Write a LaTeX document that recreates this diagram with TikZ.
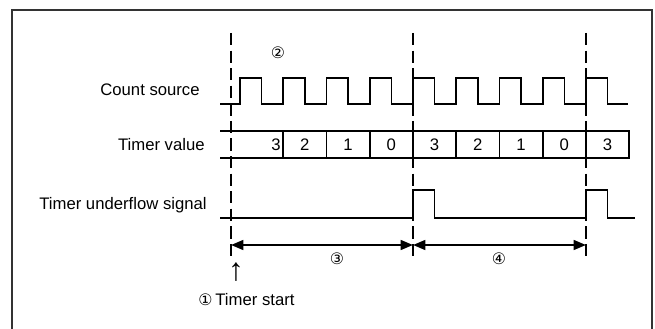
\documentclass[tikz,border=0pt]{standalone}
\usepackage{fontspec}
\setmainfont{Liberation Sans}
\newfontfamily\circfont{DejaVu Sans}
\usetikzlibrary{arrows.meta,calc}

\begin{document}
\begin{tikzpicture}[
    wave/.style={line width=0.9pt},
    marker/.style={dash pattern=on 7pt off 3pt,line width=0.8pt},
    lbl/.style={anchor=east,inner sep=0pt,font=\fontsize{9.5}{11}\selectfont},
    val/.style={inner sep=0pt,font=\fontsize{9.5}{11}\selectfont},
    circ/.style={inner sep=0pt,font=\circfont\fontsize{9}{10}\selectfont},
    span/.style={line width=1.3pt,{Triangle[length=7pt,width=5.5pt]}-{Triangle[length=7pt,width=5.5pt]}}
  ]
          \useasboundingbox (0,0) rectangle (13.1,6.58);
          % frame
          \draw[line width=1.1pt,black!80] (0.24,0) -- (0.24,6.38) -- (13.04,6.38) -- (13.04,0);

          % signal names
          \node[lbl] (cs) at (4.0,4.78) {Count source};
          \node[lbl] (tv) at (4.1,3.68) {Timer value};
          \node[lbl] (tu) at (4.14,2.48) {Timer underflow signal};

          % count source
          \draw[wave] (4.4,4.5)
            \foreach \k in {0,...,8} {
              -- ({4.8+0.865*\k},4.5) -- ({4.8+0.865*\k},5.02)
              -- ({5.2325+0.865*\k},5.02) -- ({5.2325+0.865*\k},4.5)
            } -- (12.56,4.5);

          % timer value
          \draw[wave] (4.4,3.96) -- (12.585,3.96) -- (12.585,3.42) -- (4.4,3.42);
          \foreach \k in {1,...,8}
            \draw[wave] ({4.8+0.865*\k},3.96) -- ({4.8+0.865*\k},3.42);
          \node[val] (v0) at (5.52,3.69) {3};
          \foreach \v [count=\k] in {2,1,0,3,2,1,0,3}
            \node[val] (v\k) at ({5.2325+0.865*\k},3.69) {\v};

          % underflow signal
          \draw[wave] (4.4,2.22) -- (8.26,2.22) -- (8.26,2.78) -- (8.6925,2.78) -- (8.6925,2.22)
            -- (11.72,2.22) -- (11.72,2.78) -- (12.1525,2.78) -- (12.1525,2.22) -- (12.70,2.22);

          % timing markers
          \coordinate (s0) at (4.62,1.68);
          \coordinate (s1) at (8.26,1.68);
          \coordinate (s2) at (11.72,1.68);
          \foreach \x in {4.62,8.26,11.72}
            \draw[marker] (\x,5.92) -- (\x,1.38);
          \draw[span] (s0) -- (s1);
          \draw[span] (s1) -- (s2);

          \node[circ] (n2) at (5.56,5.52) {②};
          \node[circ] (n3) at (6.74,1.40) {③};
          \node[circ] (n4) at (9.98,1.40) {④};
          \node[val,font=\fontsize{18}{19}\selectfont] (up) at (4.72,1.14) {↑};
          \node[val,anchor=west] (st) at (4.30,0.58) {Timer start};
          \node[circ,anchor=east] (n1) at (4.26,0.59) {①};
        \end{tikzpicture}
\end{document}
